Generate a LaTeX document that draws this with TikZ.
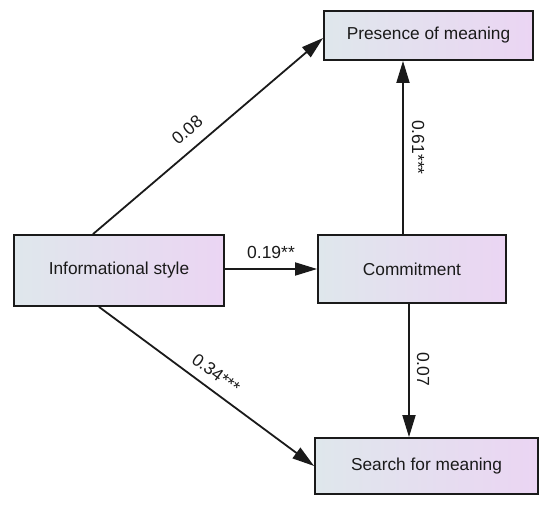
\documentclass[tikz,border=0pt]{standalone}
\usepackage{fontspec}
\setmainfont{Liberation Sans}
\usetikzlibrary{arrows.meta, positioning}
\definecolor{BoxLeft}{HTML}{DFE7EC}
\definecolor{BoxRight}{HTML}{EBD5F3}
\definecolor{LineDark}{HTML}{1A1A1A}

\begin{document}
\begin{tikzpicture}[x=1pt, y=-1pt,
    varbox/.style={draw=LineDark, line width=1.8pt, left color=BoxLeft, right color=BoxRight,
          inner sep=0pt, font=\fontsize{17.3}{20}\selectfont, text=LineDark},
    effect/.style={draw=LineDark, line width=1.8pt, -{Triangle[length=22pt, width=13pt]}},
    coef/.style={font=\fontsize{17.5}{20}\selectfont, text=LineDark, inner sep=0pt}]
    \useasboundingbox (0,0) rectangle (550,506);

    % variables
    \node[varbox, minimum width=210pt, minimum height=71pt] (is) at (119,270.5) {Informational style};
    \node[varbox, minimum width=188pt, minimum height=68pt] (cm) at (412,269) {Commitment};
    \node[varbox, minimum width=209pt, minimum height=49pt] (pm) at (428.5,35.5) {Presence of meaning};
    \node[varbox, minimum width=223pt, minimum height=56pt] (sm) at (426.5,466) {Search for meaning};

    \coordinate (cmup) at ([xshift=-9pt]cm.north);
    \coordinate (cmdown) at ([xshift=-3pt]cm.south);

    % paths
    \draw[effect] ([xshift=-26pt]is.north) -- ([yshift=-2.5pt]pm.west)
        node[coef, pos=0.46, sloped, above=11pt] {0.08};
    \draw[effect] (is.east |- cm.west) -- (cm.west)
        node[coef, pos=0.5, above=9pt] {0.19**};
    \draw[effect] ([xshift=-20pt]is.south) -- (sm.west)
        node[coef, pos=0.5, sloped, above=9pt] {0.34***};
    \draw[effect] (cmup) -- (cmup |- pm.south)
        node[coef, pos=0.5, anchor=south, rotate=-90, outer ysep=9pt] {0.61***};
    \draw[effect] (cmdown) -- (cmdown |- sm.north)
        node[coef, pos=0.49, anchor=south, rotate=-90, outer ysep=8pt] {0.07};
\end{tikzpicture}
\end{document}
